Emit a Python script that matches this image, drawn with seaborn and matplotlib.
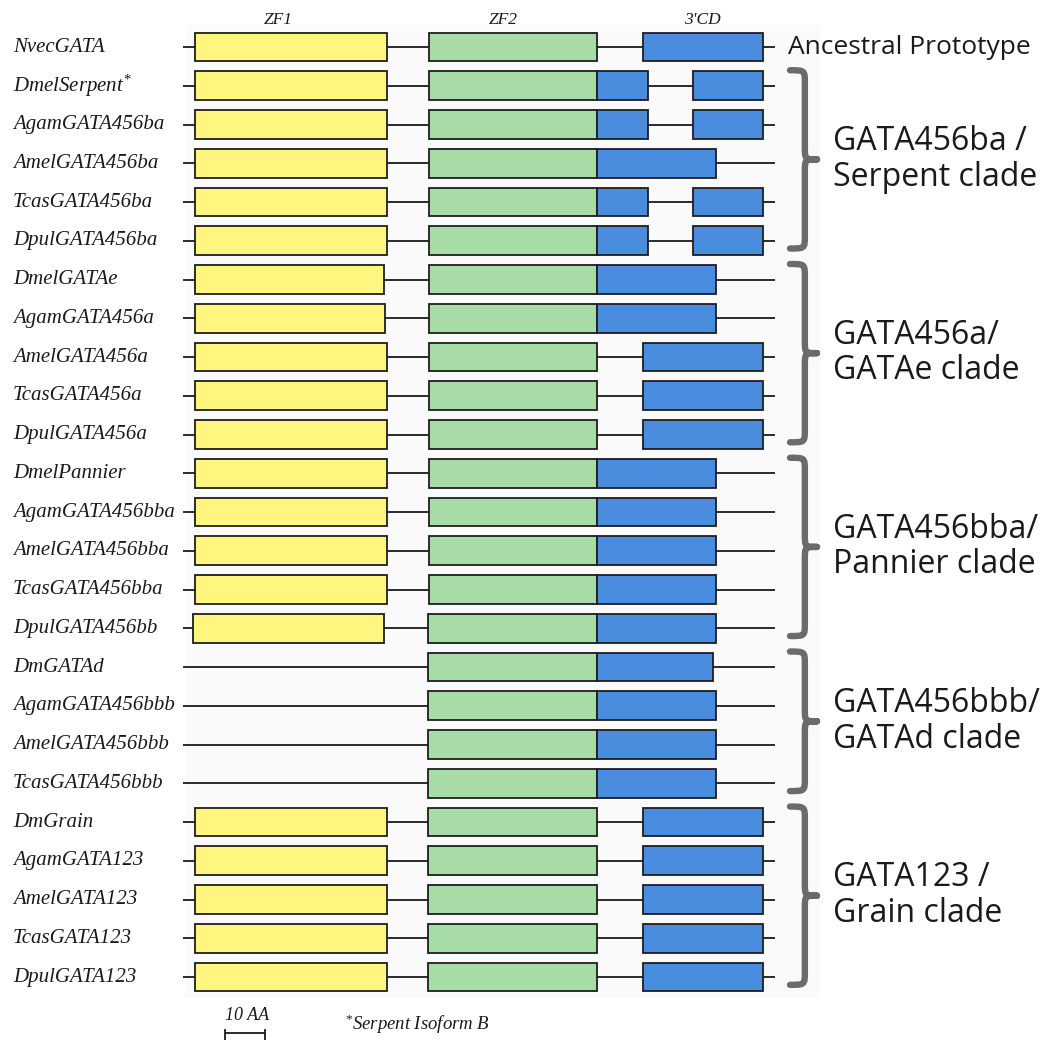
import numpy as np
import pandas as pd
import matplotlib
matplotlib.use('Agg')
import matplotlib.pyplot as plt
import seaborn as sns
from matplotlib.path import Path
from matplotlib.patches import PathPatch, Rectangle

####################################################
# domain positions in amino acids (AA) from the start of the backbone
nan = np.nan
names = ['NvecGATA', 'DmelSerpent', 'AgamGATA456ba', 'AmelGATA456ba', 'TcasGATA456ba', 'DpulGATA456ba',
         'DmelGATAe', 'AgamGATA456a', 'AmelGATA456a', 'TcasGATA456a', 'DpulGATA456a',
         'DmelPannier', 'AgamGATA456bba', 'AmelGATA456bba', 'TcasGATA456bba', 'DpulGATA456bb',
         'DmGATAd', 'AgamGATA456bbb', 'AmelGATA456bbb', 'TcasGATA456bbb',
         'DmGrain', 'AgamGATA123', 'AmelGATA123', 'TcasGATA123', 'DpulGATA123']
backbone_end = [148] * 25
zf1_start = [3, 3, 3, 3, 3, 3, 3, 3, 3, 3, 3, 3, 3, 3, 3, 2.5, nan, nan, nan, nan, 3, 3, 3, 3, 3]
zf1_end = [51, 51, 51, 51, 51, 51, 50.25, 50.5, 51, 51, 51, 51, 51, 51, 51, 50.25, nan, nan, nan, nan, 51, 51, 51, 51, 51]
zf2_start = [61.5, 61.5, 61.5, 61.5, 61.5, 61.5, 61.5, 61.5, 61.5, 61.5, 61.5, 61.5, 61.5, 61.5, 61.5, 61.25,
             61.25, 61.25, 61.25, 61.25, 61.25, 61.25, 61.25, 61.25, 61.25]
zf2_end = [103.5] * 25
cd1_start = [115, 103.5, 103.5, 103.5, 103.5, 103.5, 103.5, 103.5, 115, 115, 115,
             103.5, 103.5, 103.5, 103.5, 103.5, 103.5, 103.5, 103.5, 103.5, 115, 115, 115, 115, 115]
cd1_end = [145, 116.25, 116.25, 133.25, 116.25, 116.25, 133.25, 133.25, 145, 145, 145,
           133.25, 133.25, 133.25, 133.25, 133.25, 132.5, 133.25, 133.25, 133.25, 145, 145, 145, 145, 145]
cd2_start = [nan, 127.5, 127.5, nan, 127.5, 127.5] + [nan] * 19
cd2_end = [nan, 145, 145, nan, 145, 145] + [nan] * 19

domain_names = ['ZF1', 'ZF2', "3'CD"]
domain_centers = [23.75, 80, 129.75]

clade_labels = ['GATA456ba /\nSerpent clade', 'GATA456a/\nGATAe clade', 'GATA456bba/\nPannier clade',
                'GATA456bbb/\nGATAd clade', 'GATA123 /\nGrain clade']
clade_first = [1, 6, 11, 16, 20]
clade_last = [5, 10, 15, 19, 24]

scale_aa = 10

YELLOW = '#fff680'
GREEN = '#a8dca6'
BLUE = '#4a8ddf'
BRACE = '#6b6b6b'
SERIF = 'Liberation Serif'


def brace(ax, x0, y0, y1, w, r=0.33):
    xm = x0 + w * 0.55
    xt = x0 + w
    ym = (y0 + y1) / 2
    verts = [(x0, y0), (xm, y0), (xm, y0), (xm, y0 + r),
             (xm, ym - r),
             (xm, ym), (xm, ym), (xt, ym),
             (xm, ym), (xm, ym), (xm, ym + r),
             (xm, y1 - r),
             (xm, y1), (xm, y1), (x0, y1)]
    codes = [Path.MOVETO, Path.CURVE4, Path.CURVE4, Path.CURVE4,
             Path.LINETO,
             Path.CURVE4, Path.CURVE4, Path.CURVE4,
             Path.CURVE4, Path.CURVE4, Path.CURVE4,
             Path.LINETO,
             Path.CURVE4, Path.CURVE4, Path.CURVE4]
    ax.add_patch(PathPatch(Path(verts, codes), facecolor='none', edgecolor=BRACE,
                           lw=4.6, capstyle='round', joinstyle='round'))
    return ym


def plot_domains():
    sns.set_theme(style='white')
    plt.rcParams['mathtext.fontset'] = 'custom'
    plt.rcParams['mathtext.it'] = 'Liberation Serif:italic'
    plt.rcParams['mathtext.rm'] = 'Liberation Serif'

    df = pd.DataFrame({'name': names, 'end': backbone_end,
                       'zf1_start': zf1_start, 'zf1_end': zf1_end,
                       'zf2_start': zf2_start, 'zf2_end': zf2_end,
                       'cd1_start': cd1_start, 'cd1_end': cd1_end,
                       'cd2_start': cd2_start, 'cd2_end': cd2_end})
    df['row'] = np.arange(len(df))

    fig = plt.figure(figsize=(10.64, 10.41), dpi=100)
    ax = fig.add_axes([0, 0, 1, 1])
    ax.set_xlim(-45.75, 220.25)
    ax.set_ylim(25.65, -1.213)
    ax.axis('off')

    # faint panel behind the diagram
    ax.add_patch(Rectangle((0.5, -0.57), 158.75, 25.1, color='#fafafa', lw=0, zorder=0))

    ax.hlines(df['row'], 0, df['end'], color='#2b2b2b', lw=1.4, zorder=1)
    h = 0.74
    for key, col in [('zf1', YELLOW), ('zf2', GREEN), ('cd1', BLUE), ('cd2', BLUE)]:
        sub = df.dropna(subset=[key + '_start'])
        ax.barh(sub['row'], sub[key + '_end'] - sub[key + '_start'], left=sub[key + '_start'],
                height=h, color=col, edgecolor='#1e1e1e', linewidth=1.3, zorder=2)

    for i, n in enumerate(names):
        label = n if n != 'DmelSerpent' else r'$\mathit{DmelSerpent}^{*}$'
        ax.text(-42.5, i, label, ha='left', va='center', family=SERIF, style='italic',
                fontsize=15, color='#1a1a1a')

    for d, c in zip(domain_names, domain_centers):
        ax.text(c, -0.7, d, ha='center', va='center', family=SERIF, style='italic',
                fontsize=12.5, color='#1a1a1a')

    ax.text(151.25, 0, 'Ancestral Prototype', ha='left', va='center', family='Open Sans',
            fontsize=19, color='#1a1a1a')

    for lab, a, b in zip(clade_labels, clade_first, clade_last):
        ym = brace(ax, 151.75, a - 0.4, b + 0.2, 6.75)
        ax.text(162.5, ym, lab, ha='left', va='center', family='Open Sans', fontsize=23,
                color='#1a1a1a', linespacing=1.1)

    # scale bar
    ax.hlines(25.45, 10.5, 10.5 + scale_aa, color='#1a1a1a', lw=1.3)
    ax.vlines([10.5, 10.5 + scale_aa], 25.33, 25.62, color='#1a1a1a', lw=1.3)
    ax.text(10.5 + scale_aa / 2 + 0.6, 24.98, f'{scale_aa} AA', ha='center', va='center', family=SERIF,
            style='italic', fontsize=13, color='#1a1a1a')
    ax.text(40.5, 25.22, r'$^{*}\mathit{Serpent\ Isoform\ B}$', ha='left', va='center',
            fontsize=13.5, color='#1a1a1a')

    fig.savefig('out.png', dpi=100)


if __name__ == '__main__':
    plot_domains()
